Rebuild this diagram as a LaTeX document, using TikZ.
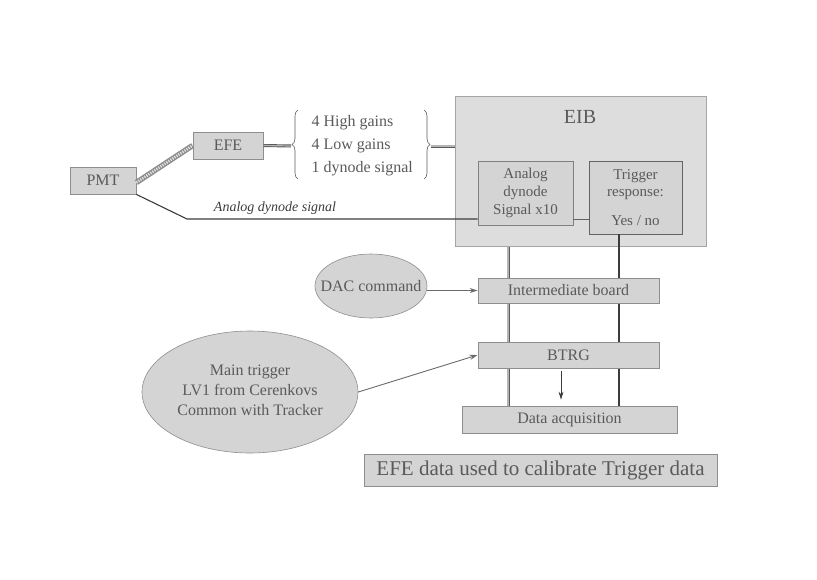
\documentclass[tikz,border=0pt]{standalone}
\usepackage{fontspec}
\setmainfont{Liberation Serif}
\usetikzlibrary{backgrounds,decorations.pathreplacing,shapes.geometric,arrows.meta}
\definecolor{boxfill}{HTML}{D4D4D4}
\definecolor{boxline}{HTML}{8E8E8E}
\definecolor{txt}{HTML}{5A5A5A}
\definecolor{darkl}{HTML}{3C3C3C}
\definecolor{arr}{HTML}{6A6A6A}
\begin{document}
\begin{tikzpicture}[x=1pt,y=-1pt,
  gbox/.style={draw=boxline,fill=boxfill,text=txt,inner sep=0pt,line width=0.8pt,
    font=\fontsize{16}{18}\selectfont,align=center},
  gell/.style={ellipse,draw=boxline,fill=boxfill,text=txt,inner sep=0pt,line width=0.6pt,
    font=\fontsize{16}{19}\selectfont,align=center},
  dline/.style={draw=arr!85!black,double=boxfill!85!black,double distance=1.2pt,line width=0.9pt},
  sline/.style={draw=darkl,line width=1.1pt},
  garrow/.style={draw=arr,line width=0.9pt,-{Stealth[length=8pt,width=5pt]}},
  gbrace/.style={draw=txt,line width=0.6pt,decorate,decoration={brace,amplitude=6pt}}]
\useasboundingbox (0,0) rectangle (817,579);

% nodes
\node[gbox,minimum width=66pt,minimum height=27pt] (pmt) at (103,180.5) {PMT};
\node[gbox,minimum width=70pt,minimum height=27pt] (efe) at (228,145.5) {EFE};
\node[gbox,fill=boxfill!80!white,draw=boxline!80!white,minimum width=251pt,minimum height=150pt] (eib) at (581,171.5) {};
\node[text=txt,font=\fontsize{20}{22}\selectfont] (eibt) at (580,117) {EIB};
\node[gbox,font=\fontsize{15}{18}\selectfont,minimum width=95pt,minimum height=64pt,draw=boxline!90!black] (analog) at (525.5,193) {Analog\\dynode\\Signal x10};
\node[gbox,font=\fontsize{15}{17}\selectfont,minimum width=93pt,minimum height=73pt,draw=darkl!80!white] (trig) at (635.5,197.5) {Trigger\\response:\\[12pt]Yes / no};
\node[text=txt,font=\fontsize{16}{23}\selectfont,align=left,anchor=west] (sig) at (308,146) {4 High gains\\4 Low gains\\1 dynode signal};
\node[gbox,minimum width=181pt,minimum height=25pt] (inter) at (568.5,290.5) {Intermediate board};
\node[gbox,minimum width=181pt,minimum height=26pt] (btrg) at (568.5,355) {BTRG};
\node[gbox,minimum width=215pt,minimum height=27pt] (daq) at (569.5,419.5) {Data acquisition};
\node[gell,minimum width=112pt,minimum height=64pt] (dac) at (371,286) {\makebox[0pt]{DAC command}};
\node[gell,minimum width=216pt,minimum height=122pt] (main) at (250,392) {\makebox[0pt]{\begin{tabular}{@{}c@{}}Main trigger\\[1pt]LV1 from Cerenkovs\\[1pt]Common with Tracker\end{tabular}}};
\node[gbox,minimum width=353pt,minimum height=32pt,font=\fontsize{21}{23}\selectfont] (note) at (540.5,470) {EFE data used to calibrate Trigger data};

% braces
\coordinate (lbt) at (298,110);
\coordinate (lbb) at (298,179);
\coordinate (rbt) at (424,110);
\coordinate (rbb) at (424,179);
\draw[gbrace] (lbb) -- (lbt);
\draw[gbrace] (rbt) -- (rbb);
\coordinate (lbtip) at (291,146);
\coordinate (rbtip) at (431,146);

% PMT -> EFE hatched cable
\draw[line width=5.5pt,draw=boxline] ([yshift=-2pt]pmt.east) -- ([yshift=0pt]efe.west);
\draw[line width=2.6pt,draw=boxfill!70!white,dash pattern=on 1.2pt off 1.2pt] ([yshift=-2pt]pmt.east) -- ([yshift=0pt]efe.west);

% EFE -> brace, brace -> EIB
\draw[dline] (efe.east) -- (lbtip);
\draw[dline] (rbtip) -- (rbtip -| eib.west);

% analog dynode signal line
\coordinate (bend) at (187,219);
\draw[sline] (pmt.south east) -- (bend) -- (bend -| analog.west);
\node[text=darkl,font=\fontsize{14}{15}\selectfont\itshape] (adl) at (275,208) {Analog dynode signal};
\draw[sline,line width=0.8pt,draw=darkl!80!white] (bend -| analog.east) -- (bend -| trig.west);

% trigger line inside EIB
\coordinate (vx) at (619,0);
\draw[sline] (trig.south -| vx) -- (eib.south -| vx);

% vertical lines behind boxes
\coordinate (dx) at (508,0);
\begin{pgfonlayer}{background}
\draw[dline] (eib.south -| dx) -- (daq.north -| dx);
\draw[sline] (eib.south -| vx) -- (daq.north -| vx);
\end{pgfonlayer}

% arrows
\draw[garrow] (dac.east |- inter.west) -- (inter.west);
\draw[garrow] (main.east) -- (btrg.west);
\coordinate (ax) at (561,0);
\draw[garrow,draw=darkl,shorten <=3pt,shorten >=6pt] (btrg.south -| ax) -- (daq.north -| ax);
\end{tikzpicture}
\end{document}
